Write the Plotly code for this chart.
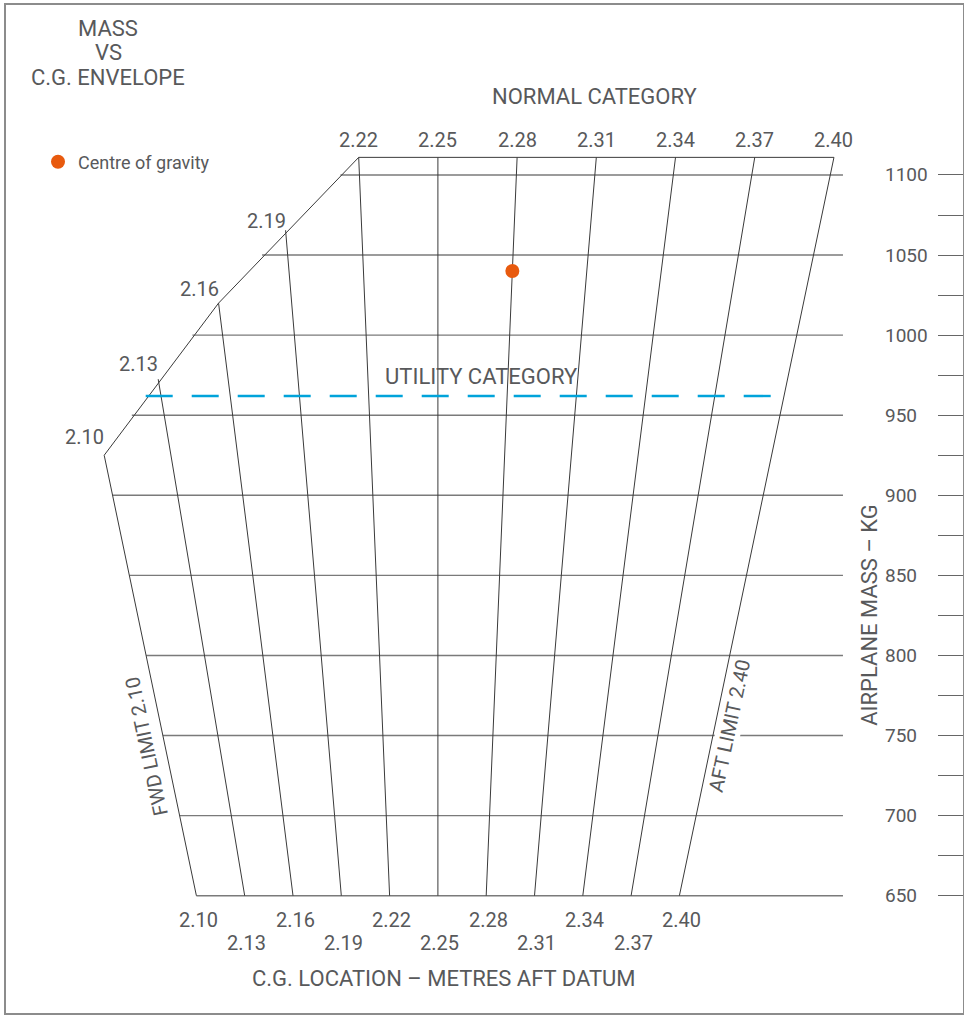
import numpy as np
import plotly.graph_objects as go

# ---------------- data ----------------
CG_LINES = [2.10, 2.13, 2.16, 2.19, 2.22, 2.25, 2.28, 2.31, 2.34, 2.37, 2.40]
CG_LABELS = ["2.10", "2.13", "2.16", "2.19", "2.22", "2.25", "2.28", "2.31", "2.34", "2.37", "2.40"]
MASS_GRID = [650, 700, 750, 800, 850, 900, 950, 1000, 1050, 1100]
MASS_LABELS = ["650", "700", "750", "800", "850", "900", "950", "1000", "1050", "1100"]
MASS_TICKS = list(range(650, 1101, 25))
FWD_ENV_CG = [2.10, 2.16, 2.22]          # forward (slanted) boundary corners
FWD_ENV_MASS = [925, 1020, 1111]
MIN_MASS = 650
MAX_MASS = 1111
AFT_LIMIT_CG = 2.40
UTILITY_MASS = 962
COG_CG = [2.28]
COG_MASS = [1040]

# ---------------- chart geometry (skewed CG grid) ----------------
PIVOT_CG = 2.25      # CG line that stays vertical
TOP_SPREAD = 1.64    # CG spacing at max mass relative to min mass
GRID_RIGHT_END = 2.5016

def chart_x(cg, mass):
    f = (np.asarray(mass, float) - MIN_MASS) / (MAX_MASS - MIN_MASS)
    return PIVOT_CG + (np.asarray(cg, float) - PIVOT_CG) * (1 + f * (TOP_SPREAD - 1))

def fwd_cg_at(mass):
    return float(np.interp(mass, FWD_ENV_MASS, FWD_ENV_CG))

def cg_top_mass(cg):
    return float(np.interp(cg, FWD_ENV_CG, FWD_ENV_MASS))

TXT = "#58595B"
FONT = "Roboto"

fig = go.Figure()

# horizontal mass gridlines
gx, gy = [], []
for m in MASS_GRID:
    gx += [float(chart_x(fwd_cg_at(m), m)), GRID_RIGHT_END, None]
    gy += [m, m, None]
fig.add_trace(go.Scatter(x=gx, y=gy, mode="lines", line=dict(color="#7a7a7a", width=1.4),
                         hoverinfo="skip", showlegend=False))

# CG lines
cx, cy = [], []
for c in CG_LINES:
    mt = cg_top_mass(c)
    cx += [float(chart_x(c, MIN_MASS)), float(chart_x(c, mt)), None]
    cy += [MIN_MASS, mt, None]
fig.add_trace(go.Scatter(x=cx, y=cy, mode="lines", line=dict(color="#3a3a3a", width=1),
                         hoverinfo="skip", showlegend=False))

# envelope outline: forward slanted boundary + top
ex = [float(chart_x(c, m)) for c, m in zip(FWD_ENV_CG, FWD_ENV_MASS)] + [float(chart_x(AFT_LIMIT_CG, MAX_MASS))]
ey = FWD_ENV_MASS + [MAX_MASS]
fig.add_trace(go.Scatter(x=ex, y=ey, mode="lines", line=dict(color="#3a3a3a", width=1),
                         hoverinfo="skip", showlegend=False))

# utility category dashed line
ux = [float(chart_x(fwd_cg_at(UTILITY_MASS), UTILITY_MASS)), float(chart_x(AFT_LIMIT_CG, UTILITY_MASS))]
fig.add_trace(go.Scatter(x=ux, y=[UTILITY_MASS, UTILITY_MASS], mode="lines",
                         line=dict(color="#00A3DA", width=2.4, dash="27px,19px"),
                         hoverinfo="skip", showlegend=False))

# centre of gravity
fig.add_trace(go.Scatter(x=chart_x(COG_CG, COG_MASS), y=COG_MASS, mode="markers",
                         marker=dict(color="#E85A0E", size=14), name="Centre of gravity",
                         showlegend=True))

ann = []
# CG labels along top and forward boundary
FWD_LABEL_YSHIFT = {2.10: 4, 2.13: 1, 2.16: 0, 2.19: -5}
for c, lab in zip(CG_LINES, CG_LABELS):
    if c >= 2.22:
        ann.append(dict(x=float(chart_x(c, MAX_MASS)), y=MAX_MASS, text=lab, showarrow=False,
                        xanchor="center", yanchor="bottom", yshift=3,
                        font=dict(size=20, color=TXT, family=FONT)))
    else:
        m = cg_top_mass(c)
        ann.append(dict(x=float(chart_x(c, m)), y=m, text=lab, showarrow=False,
                        xanchor="right", yanchor="bottom", xshift=2,
                        yshift=FWD_LABEL_YSHIFT.get(round(c, 2), 0),
                        font=dict(size=20, color=TXT, family=FONT)))
# bottom CG labels (staggered)
for i, (c, lab) in enumerate(zip(CG_LINES, CG_LABELS)):
    ann.append(dict(x=float(chart_x(c, MIN_MASS)), y=MIN_MASS, text=lab, showarrow=False,
                    xanchor="center", yanchor="top", xshift=2, yshift=-10 if i % 2 == 0 else -33,
                    font=dict(size=20, color=TXT, family=FONT)))
# right mass labels
for m, lab in zip(MASS_GRID, MASS_LABELS):
    ann.append(dict(xref="paper", x=0.9164, y=m, text=lab, showarrow=False,
                    xanchor="left", yanchor="middle",
                    font=dict(size=19, color=TXT, family=FONT)))
# limit labels
ann.append(dict(x=float(chart_x(2.10, 743)), y=743, text="FWD LIMIT 2.10", showarrow=False,
                textangle=-102, xshift=-19, xanchor="center", yanchor="middle",
                font=dict(size=20, color=TXT, family=FONT)))
ann.append(dict(x=float(chart_x(AFT_LIMIT_CG, 756)), y=756, text="AFT LIMIT 2.40", showarrow=False,
                textangle=-78, xshift=14.5, bgcolor="white", borderpad=0,
                xanchor="center", yanchor="middle",
                font=dict(size=20, color=TXT, family=FONT)))
ann.append(dict(x=2.2768, y=UTILITY_MASS, text="UTILITY CATEGORY", showarrow=False,
                xanchor="center", yanchor="bottom", yshift=5,
                font=dict(size=22, color=TXT, family=FONT)))

# paper texts
def ptext(text, x, y, size=22, angle=0):
    ann.append(dict(xref="paper", yref="paper", x=x, y=y, text=text, showarrow=False,
                    xanchor="center", yanchor="middle", textangle=angle,
                    font=dict(size=size, color=TXT, family=FONT)))

ptext("MASS", 0.1066, 0.9762)
ptext("VS", 0.1066, 0.9529)
ptext("C.G. ENVELOPE", 0.1066, 0.9281)
ptext("NORMAL CATEGORY", 0.6155, 0.9097)
ptext("C.G. LOCATION – METRES AFT DATUM", 0.4577, 0.0347)
ptext("AIRPLANE MASS – KG", 0.9015, 0.3948, angle=-90)

fig.update_layout(
    width=964, height=1016,
    margin=dict(l=6, r=1, t=5, b=3, autoexpand=False),
    paper_bgcolor="white", plot_bgcolor="white",
    annotations=ann,
    showlegend=True,
    legend=dict(x=(38 - 6) / 957, y=1 - (162 - 5) / 1008, xanchor="left", yanchor="middle",
                bgcolor="rgba(0,0,0,0)", font=dict(size=18, color=TXT, family=FONT)),
    xaxis=dict(range=[1.98174, 2.57615], showgrid=False, zeroline=False, showticklabels=False,
               ticks="", showline=True, mirror=True, linecolor="#8c8c8c", linewidth=1.5,
               fixedrange=True),
    yaxis=dict(range=[576.76, 1206.13], side="right", showgrid=False, zeroline=False,
               showticklabels=False, tickvals=MASS_TICKS, ticks="inside", ticklen=25,
               tickcolor="#666666", tickwidth=1.4,
               showline=True, mirror=True, linecolor="#8c8c8c", linewidth=1.5, fixedrange=True),
)

fig.write_html("out.html", config={"displayModeBar": False},
               post_script="document.body.style.margin='0';document.body.style.overflow='hidden';")
